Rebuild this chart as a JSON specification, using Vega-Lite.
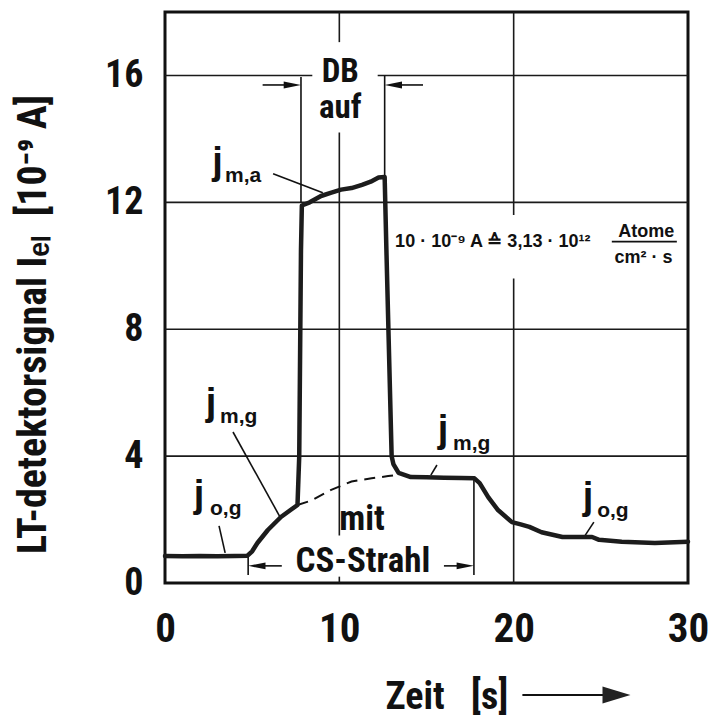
{
  "$schema": "https://vega.github.io/schema/vega-lite/v6.json",
  "width": 523,
  "height": 571,
  "autosize": "none",
  "padding": {"left": 165, "top": 12, "right": 23, "bottom": 134},
  "background": "white",
  "config": {
    "view": {"stroke": "#111", "strokeWidth": 3},
    "axis": {"grid": false, "ticks": false, "tickSize": 0, "domain": false, "labelColor": "#111", "titleColor": "#111"}
  },
  "datasets": {
    "signal": [
      {"x": 0, "y": 0.85}, {"x": 1, "y": 0.84}, {"x": 2, "y": 0.85}, {"x": 3, "y": 0.84}, {"x": 4, "y": 0.85},
      {"x": 4.73, "y": 0.86}, {"x": 5.0, "y": 1.0}, {"x": 5.3, "y": 1.26}, {"x": 5.9, "y": 1.67}, {"x": 6.65, "y": 2.08},
      {"x": 7.2, "y": 2.3}, {"x": 7.6, "y": 2.46}, {"x": 7.7, "y": 4.0}, {"x": 7.8, "y": 10.5}, {"x": 7.85, "y": 11.9},
      {"x": 8.3, "y": 12.0}, {"x": 8.95, "y": 12.2}, {"x": 9.5, "y": 12.3}, {"x": 10.1, "y": 12.4}, {"x": 10.7, "y": 12.45},
      {"x": 11.3, "y": 12.55}, {"x": 11.8, "y": 12.65}, {"x": 12.25, "y": 12.78}, {"x": 12.6, "y": 12.8}, {"x": 12.7, "y": 10.5},
      {"x": 13.0, "y": 4.0}, {"x": 13.1, "y": 3.75}, {"x": 13.4, "y": 3.47}, {"x": 14.1, "y": 3.34}, {"x": 15, "y": 3.33},
      {"x": 16, "y": 3.32}, {"x": 17.0, "y": 3.31}, {"x": 17.75, "y": 3.3}, {"x": 18.05, "y": 3.15}, {"x": 18.55, "y": 2.7},
      {"x": 19.1, "y": 2.3}, {"x": 19.9, "y": 1.92}, {"x": 20.4, "y": 1.85}, {"x": 20.9, "y": 1.77}, {"x": 21.6, "y": 1.6},
      {"x": 22.8, "y": 1.45}, {"x": 23.75, "y": 1.45}, {"x": 24.5, "y": 1.45}, {"x": 24.9, "y": 1.36}, {"x": 26.2, "y": 1.3},
      {"x": 28.1, "y": 1.26}, {"x": 30, "y": 1.3}
    ],
    "dashed": [
      {"x": 7.6, "y": 2.46}, {"x": 8.4, "y": 2.6}, {"x": 9.5, "y": 2.93}, {"x": 10.7, "y": 3.2},
      {"x": 11.85, "y": 3.3}, {"x": 12.8, "y": 3.37}, {"x": 13.2, "y": 3.4}
    ],
    "grid": [
      {"x": 0, "x2": 30, "y": 4, "y2": 4},
      {"x": 0, "x2": 30, "y": 8, "y2": 8},
      {"x": 0, "x2": 30, "y": 12, "y2": 12},
      {"x": 0, "x2": 8.45, "y": 16, "y2": 16},
      {"x": 12.2, "x2": 30, "y": 16, "y2": 16},
      {"x": 10, "x2": 10, "y": 0, "y2": 0.2},
      {"x": 10, "x2": 10, "y": 1.5, "y2": 14.2},
      {"x": 10, "x2": 10, "y": 17.05, "y2": 18},
      {"x": 20, "x2": 20, "y": 0, "y2": 9.6},
      {"x": 20, "x2": 20, "y": 11.6, "y2": 18}
    ],
    "thin": [
      {"x": 3.1, "y": 1.8, "x2": 3.45, "y2": 0.95},
      {"x": 3.9, "y": 4.76, "x2": 6.6, "y2": 2.08},
      {"x": 6.2, "y": 12.9, "x2": 9.05, "y2": 12.3},
      {"x": 15.6, "y": 3.72, "x2": 15.25, "y2": 3.4},
      {"x": 24.6, "y": 1.92, "x2": 24.1, "y2": 1.5},
      {"x": 7.8, "y": 12.0, "x2": 7.8, "y2": 15.95},
      {"x": 12.6, "y": 12.8, "x2": 12.6, "y2": 16.0},
      {"x": 5.6, "y": 15.7, "x2": 7.2, "y2": 15.7},
      {"x": 13.2, "y": 15.7, "x2": 14.8, "y2": 15.7},
      {"x": 4.77, "y": 0.25, "x2": 4.77, "y2": 0.85},
      {"x": 17.72, "y": 0.25, "x2": 17.72, "y2": 3.3},
      {"x": 5.3, "y": 0.54, "x2": 6.7, "y2": 0.54},
      {"x": 16.0, "y": 0.54, "x2": 17.2, "y2": 0.54},
      {"x": 25.63, "y": 10.76, "x2": 29.36, "y2": 10.76}
    ],
    "heads": [
      {"x": 7.8, "y": 15.7, "dir": "right"},
      {"x": 12.6, "y": 15.7, "dir": "left"},
      {"x": 4.77, "y": 0.54, "dir": "left"},
      {"x": 17.72, "y": 0.54, "dir": "right"}
    ],
    "titlearrow": [{"x": 20.5, "x2": 25.3, "y": -3.53}],
    "titlehead": [{"x": 26.7, "y": -3.53}],
    "bigtext": [
      {"x": 11.3, "y": 1.68, "t": "mit"},
      {"x": 11.35, "y": 0.36, "t": "CS-Strahl"}
    ],
    "dbtext": [
      {"x": 10.05, "y": 15.8, "t": "DB"},
      {"x": 10.05, "y": 14.67, "t": "auf"}
    ],
    "jtext": [
      {"x": 1.95, "y": 2.14, "t": "j"},
      {"x": 2.64, "y": 5.04, "t": "j"},
      {"x": 3.01, "y": 12.64, "t": "j"},
      {"x": 15.95, "y": 4.19, "t": "j"},
      {"x": 24.27, "y": 2.08, "t": "j"}
    ],
    "subtext": [
      {"x": 2.58, "y": 2.14, "t": "o,g"},
      {"x": 3.16, "y": 5.04, "t": "m,g"},
      {"x": 3.44, "y": 12.64, "t": "m,a"},
      {"x": 16.52, "y": 4.19, "t": "m,g"},
      {"x": 24.79, "y": 2.08, "t": "o,g"}
    ],
    "annot": [{"x": 13.2, "y": 10.6, "t": "10 · 10⁻⁹ A ≙ 3,13 · 10¹²"}],
    "frac": [
      {"x": 27.6, "y": 10.92, "t": "Atome"},
      {"x": 27.45, "y": 10.08, "t": "cm² · s"}
    ]
  },
  "encoding": {
    "x": {
      "field": "x", "type": "quantitative",
      "scale": {"domain": [0, 30], "nice": false, "zero": false},
      "axis": {
        "values": [0, 10, 20, 30],
        "labelFont": "Roboto Condensed, Liberation Sans, Arial, sans-serif",
        "labelFontWeight": "bold", "labelFontSize": 41, "labelPadding": 26,
        "labelFlush": false, "labelOverlap": false,
        "title": "Zeit\u00a0\u00a0\u00a0[s]",
        "titleFont": "Roboto Condensed, Liberation Sans, Arial, sans-serif",
        "titleFontWeight": "bold", "titleFontSize": 38,
        "titleX": 220, "titleY": 125, "titleAlign": "left", "titleBaseline": "alphabetic"
      }
    },
    "y": {
      "field": "y", "type": "quantitative",
      "scale": {"domain": [0, 18], "nice": false, "zero": false},
      "axis": {
        "values": [0, 4, 8, 12, 16],
        "labelFont": "Roboto Condensed, Liberation Sans, Arial, sans-serif",
        "labelFontWeight": "bold", "labelFontSize": 38, "labelPadding": 22,
        "labelOverlap": false, "labelFlush": false,
        "title": "LT-detektorsignal Iₑₗ\u00a0\u00a0[10⁻⁹ A]",
        "titleFont": "Roboto Condensed, Liberation Sans, Arial, sans-serif",
        "titleFontWeight": "bold", "titleFontSize": 40,
        "titleX": -132, "titleY": 312, "titleAngle": 270, "titleAlign": "center", "titleBaseline": "middle"
      }
    }
  },
  "layer": [
    {
      "data": {"name": "grid"},
      "mark": {"type": "rule", "color": "#1a1a1a", "strokeWidth": 1.6},
      "encoding": {"x2": {"field": "x2"}, "y2": {"field": "y2"}}
    },
    {
      "data": {"name": "thin"},
      "mark": {"type": "rule", "color": "#111", "strokeWidth": 1.6},
      "encoding": {"x2": {"field": "x2"}, "y2": {"field": "y2"}}
    },
    {
      "data": {"name": "dashed"},
      "mark": {"type": "line", "color": "#111", "strokeWidth": 2, "strokeDash": [11, 7]},
      "encoding": {}
    },
    {
      "data": {"name": "signal"},
      "mark": {"type": "line", "color": "#1c1c1c", "strokeWidth": 4.5, "strokeJoin": "round", "strokeCap": "round"},
      "encoding": {}
    },
    {
      "data": {"name": "heads"},
      "mark": {"type": "point", "filled": true, "color": "#111", "opacity": 1, "size": 300},
      "encoding": {
        "shape": {"field": "dir", "type": "nominal", "legend": null,
          "scale": {"domain": ["left", "right"], "range": ["M0,0L2,-0.4L2,0.4Z", "M0,0L-2,-0.4L-2,0.4Z"]}}
      }
    },
    {
      "data": {"name": "titlearrow"},
      "mark": {"type": "rule", "color": "#111", "strokeWidth": 2},
      "encoding": {"x2": {"field": "x2"}}
    },
    {
      "data": {"name": "titlehead"},
      "mark": {"type": "point", "filled": true, "color": "#222", "opacity": 1, "size": 784, "shape": "M0,0L-2,-0.6L-2,0.6Z"},
      "encoding": {}
    },
    {
      "data": {"name": "bigtext"},
      "mark": {"type": "text", "font": "Roboto Condensed, Liberation Sans, Arial, sans-serif", "fontWeight": "bold", "fontSize": 35, "align": "center", "baseline": "alphabetic", "color": "#111"},
      "encoding": {"text": {"field": "t"}}
    },
    {
      "data": {"name": "dbtext"},
      "mark": {"type": "text", "font": "Roboto Condensed, Liberation Sans, Arial, sans-serif", "fontWeight": "bold", "fontSize": 33, "align": "center", "baseline": "alphabetic", "color": "#111"},
      "encoding": {"text": {"field": "t"}}
    },
    {
      "data": {"name": "jtext"},
      "mark": {"type": "text", "font": "Liberation Sans, Arial, sans-serif", "fontWeight": "bold", "fontSize": 38, "align": "center", "baseline": "bottom", "color": "#111"},
      "encoding": {"text": {"field": "t"}}
    },
    {
      "data": {"name": "subtext"},
      "mark": {"type": "text", "font": "Liberation Sans, Arial, sans-serif", "fontWeight": "bold", "fontSize": 21, "align": "left", "baseline": "alphabetic", "color": "#111"},
      "encoding": {"text": {"field": "t"}}
    },
    {
      "data": {"name": "annot"},
      "mark": {"type": "text", "font": "Liberation Sans, Arial, sans-serif", "fontWeight": "bold", "fontSize": 18, "align": "left", "baseline": "alphabetic", "color": "#111"},
      "encoding": {"text": {"field": "t"}}
    },
    {
      "data": {"name": "frac"},
      "mark": {"type": "text", "font": "Liberation Sans, Arial, sans-serif", "fontWeight": "bold", "fontSize": 18, "align": "center", "baseline": "alphabetic", "color": "#111"},
      "encoding": {"text": {"field": "t"}}
    }
  ]
}
